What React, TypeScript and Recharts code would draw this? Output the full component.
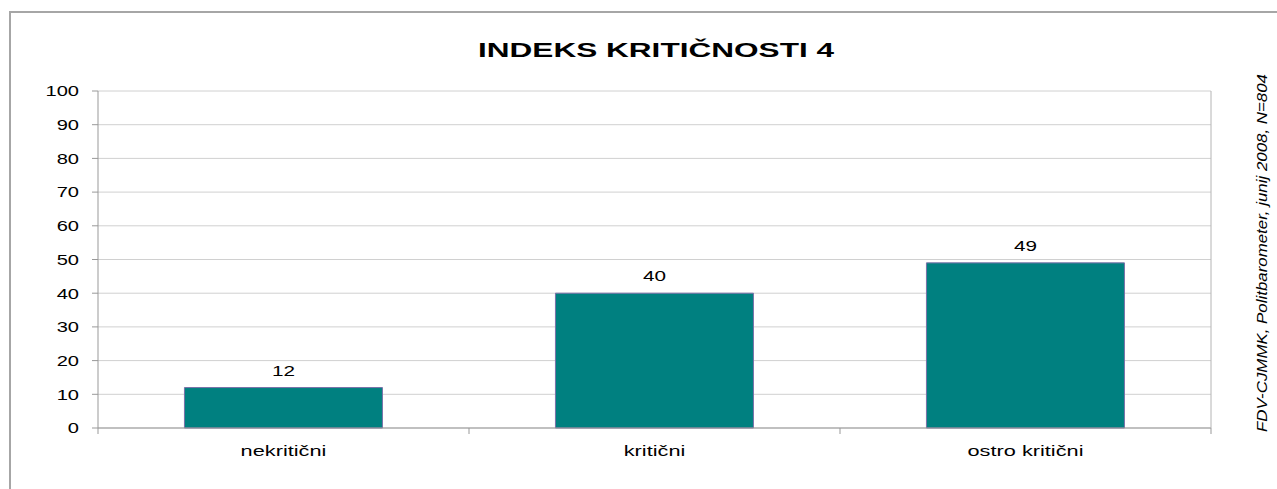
import React from 'react';
import { BarChart, Bar, XAxis, YAxis, CartesianGrid, LabelList } from 'recharts';

const categories = ['nekritični', 'kritični', 'ostro kritični'];
const values = [12, 40, 49];
const yTicks = [0, 10, 20, 30, 40, 50, 60, 70, 80, 90, 100];

const title = 'INDEKS KRITIČNOSTI 4';
const source = 'FDV-CJMMK, Politbarometer, junij 2008, N=804';

const data = categories.map((name, i) => ({ name, value: values[i] }));

const font = 'Arial, "Liberation Sans", sans-serif';
const axisColor = '#999';
const xTickMargin = 17;

// the original picture is stretched sideways, so text is widened with scaleX
const StretchText = ({ x, y, sx, anchor, dy, children }: any) => (
    <g transform={`translate(${x},${y}) scale(${sx},1)`}>
        <text x={0} y={0} dy={dy} textAnchor={anchor} fontSize={15} fontFamily={font} fill="#000">
            {children}
        </text>
    </g>
);

const YTick = ({ x, y, payload }: any) => (
    <StretchText x={x} y={y} sx={1.34} anchor="end" dy="0.355em">{payload.value}</StretchText>
);

// category label plus the small tick marks on the category boundaries
const XTick = ({ x, y, payload, width, index, visibleTicksCount }: any) => {
    const half = width / visibleTicksCount / 2;
    const axisY = y - xTickMargin;
    return (
        <g>
            <line x1={x - half} x2={x - half} y1={axisY} y2={axisY + 6} stroke={axisColor} />
            {index === visibleTicksCount - 1 && (
                <line x1={x + half} x2={x + half} y1={axisY} y2={axisY + 6} stroke={axisColor} />
            )}
            <StretchText x={x} y={y} sx={1.45} anchor="middle" dy="0.71em">{payload.value}</StretchText>
        </g>
    );
};

const ValueLabel = ({ x, y, width, value }: any) => (
    <StretchText x={x + width / 2} y={y - 12} sx={1.38} anchor="middle" dy={0}>{value}</StretchText>
);

const App = () => {
    return (
        <div style={{ position: 'absolute', left: 0, top: 0, width: 1277, height: 489, background: '#fff', fontFamily: font }}>
            {/* outer frame, only top and left edges visible in the crop */}
            <div style={{ position: 'absolute', left: 9, top: 11, width: 1268, height: 478, borderTop: '2px solid #a6a6a6', borderLeft: '2px solid #a6a6a6' }} />
            <BarChart
                width={1277}
                height={489}
                data={data}
                margin={{ top: 91, right: 0, left: 0, bottom: 21 }}
                barCategoryGap="23.3%"
                style={{ position: 'absolute', left: 0, top: 0 }}
            >
                <CartesianGrid stroke="#d0d0d0" vertical={false} yAxisId="l" />
                <XAxis
                    dataKey="name"
                    height={40}
                    stroke={axisColor}
                    tick={<XTick />}
                    tickLine={false}
                    tickSize={0}
                    tickMargin={xTickMargin}
                    interval={0}
                />
                <YAxis
                    yAxisId="l"
                    width={98}
                    domain={[0, 100]}
                    ticks={yTicks}
                    interval={0}
                    stroke={axisColor}
                    tick={<YTick />}
                    tickSize={6}
                    tickMargin={13}
                />
                <YAxis
                    yAxisId="r"
                    orientation="right"
                    width={66}
                    domain={[0, 100]}
                    tick={false}
                    tickLine={false}
                    stroke="#b4b4b4"
                />
                <Bar yAxisId="l" dataKey="value" fill="#008080" stroke="#7a70a8" strokeWidth={1} isAnimationActive={false}>
                    <LabelList dataKey="value" content={<ValueLabel />} />
                </Bar>
            </BarChart>
            <svg width={1277} height={489} style={{ position: 'absolute', left: 0, top: 0, pointerEvents: 'none' }}>
                <text
                    x={656}
                    y={57}
                    textAnchor="middle"
                    fontSize={19.5}
                    fontWeight="bold"
                    fontFamily={font}
                    textLength={356}
                    lengthAdjust="spacingAndGlyphs"
                    fill="#000"
                >
                    {title}
                </text>
                <text
                    x={1261}
                    y={253}
                    transform="rotate(-90 1261 253)"
                    textAnchor="middle"
                    dominantBaseline="central"
                    fontSize={15.5}
                    fontStyle="italic"
                    fontFamily={font}
                    textLength={358}
                    lengthAdjust="spacingAndGlyphs"
                    fill="#000"
                >
                    {source}
                </text>
            </svg>
        </div>
    );
};

export default App;
